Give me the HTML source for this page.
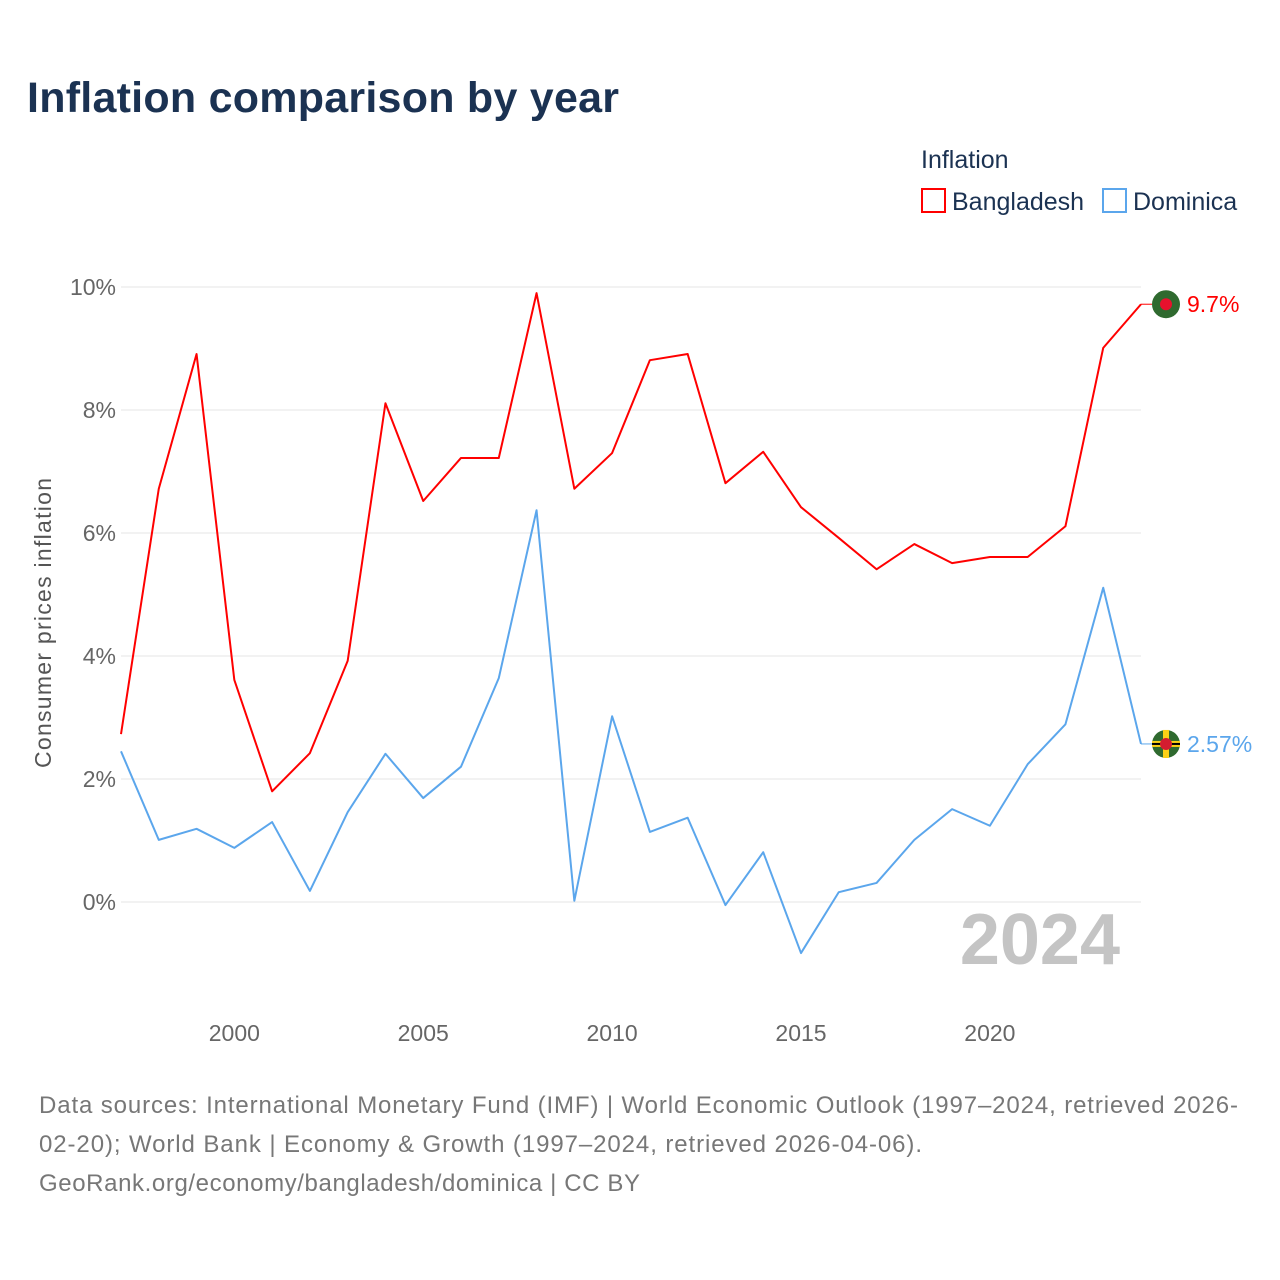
<!DOCTYPE html>
<html><head><meta charset="utf-8">
<style>
body{margin:0;background:#fff;font-family:"Liberation Sans",sans-serif;}
#wrap{position:relative;width:1280px;height:1280px;overflow:hidden;background:#fff}
</style></head>
<body>
<div id="wrap">
<svg id="svg" width="1280" height="1280" xmlns="http://www.w3.org/2000/svg">
<text x="27" y="112" font-size="43" font-weight="bold" fill="#1b3252" textLength="592">Inflation comparison by year</text>
<text x="921" y="168" font-size="25" fill="#1b3252">Inflation</text>
<g>
<rect x="922" y="189" width="23" height="23" fill="none" stroke="#ff0000" stroke-width="2"/>
<text x="952" y="210" font-size="25" fill="#1b3252">Bangladesh</text></g>
<g>
<rect x="1103" y="189" width="23" height="23" fill="none" stroke="#5ba6ec" stroke-width="2"/>
<text x="1133" y="210" font-size="25" fill="#1b3252">Dominica</text></g>
<text transform="translate(51,623) rotate(-90)" text-anchor="middle" font-size="23" fill="#555" textLength="290">Consumer prices inflation</text>
<g id="grid"></g><g id="yt"></g><g id="xt"></g><g id="lines"></g><g id="ends"></g>
<text x="1120" y="964" text-anchor="end" font-size="72" font-weight="bold" fill="#c4c4c4">2024</text>
<g font-size="24" fill="#777">
<text x="39" y="1113" textLength="1199">Data sources: International Monetary Fund (IMF) | World Economic Outlook (1997–2024, retrieved 2026-</text>
<text x="39" y="1152" textLength="883">02-20); World Bank | Economy &amp; Growth (1997–2024, retrieved 2026-04-06).</text>
<text x="39" y="1191" textLength="601">GeoRank.org/economy/bangladesh/dominica | CC BY</text>
</g>
</svg>
</div>
<script>
const years=[1997,1998,1999,2000,2001,2002,2003,2004,2005,2006,2007,2008,2009,2010,2011,2012,2013,2014,2015,2016,2017,2018,2019,2020,2021,2022,2023,2024];
const bangladesh=[2.73,6.72,8.91,3.61,1.80,2.42,3.92,8.11,6.52,7.22,7.22,9.90,6.72,7.30,8.81,8.91,6.81,7.32,6.42,5.92,5.41,5.82,5.51,5.61,5.61,6.11,9.01,9.72];
const dominica=[2.45,1.01,1.19,0.88,1.30,0.18,1.46,2.41,1.69,2.20,3.64,6.37,0.02,3.02,1.14,1.37,-0.05,0.81,-0.83,0.16,0.31,1.01,1.51,1.24,2.24,2.89,5.11,2.57];
const endLabels=["9.7%","2.57%"];
const yTicks=[0,2,4,6,8,10];
const xTicks=[2000,2005,2010,2015,2020];
const NS="http://www.w3.org/2000/svg";
const X=y=>121+(y-1997)*(1141-121)/27;
const Y=v=>902-v*61.5;
function mk(t,a,p){const e=document.createElementNS(NS,t);for(const k in a)e.setAttribute(k,a[k]);document.getElementById(p).appendChild(e);return e;}
yTicks.forEach(v=>{
 const l=mk('line',{x1:121,x2:1141,y1:Y(v),y2:Y(v),stroke:'#e6e6e6','stroke-width':1},'grid');
 
 
 const t=mk('text',{x:116,y:Y(v)+8,'text-anchor':'end','font-size':23,fill:'#666'},'yt');
 t.textContent=v+'%';
 
 
});
xTicks.forEach(v=>{
 const t=mk('text',{x:X(v),y:1041,'text-anchor':'middle','font-size':23,fill:'#666'},'xt');
 t.textContent=v;
 
 
});
function series(vals,color,name,label){
 const p=mk('polyline',{points:vals.map((v,i)=>X(years[i])+','+Y(v)).join(' '),fill:'none',stroke:color,'stroke-width':2,'stroke-linejoin':'round'},'lines');
 
 
 const last=vals[vals.length-1],y=Y(last);
 mk('line',{x1:1141,x2:1152,y1:y,y2:y,stroke:color,'stroke-width':1},'ends');
 const c=mk('circle',{cx:1166,cy:y,r:14,fill:'#2f6a2f'},'ends');
 
 
 if(name==='dominica'){
  mk('rect',{x:1152,y:y-3,width:28,height:6,fill:'#fcd116'},'ends');
  mk('rect',{x:1152,y:y-1,width:28,height:2,fill:'#000'},'ends');
  mk('rect',{x:1163,y:y-14,width:6,height:28,fill:'#fcd116'},'ends');
 }
 mk('circle',{cx:1166,cy:y,r:6,fill:name==='dominica'?'#d41c30':'#e8112d'},'ends');
 const t=mk('text',{x:1187,y:y+8,'font-size':23,fill:color},'ends');
 t.textContent=label;
 
 
}
series(bangladesh,'#ff0000','bangladesh',endLabels[0]);
series(dominica,'#5ba6ec','dominica',endLabels[1]);
</script>
</body></html>
